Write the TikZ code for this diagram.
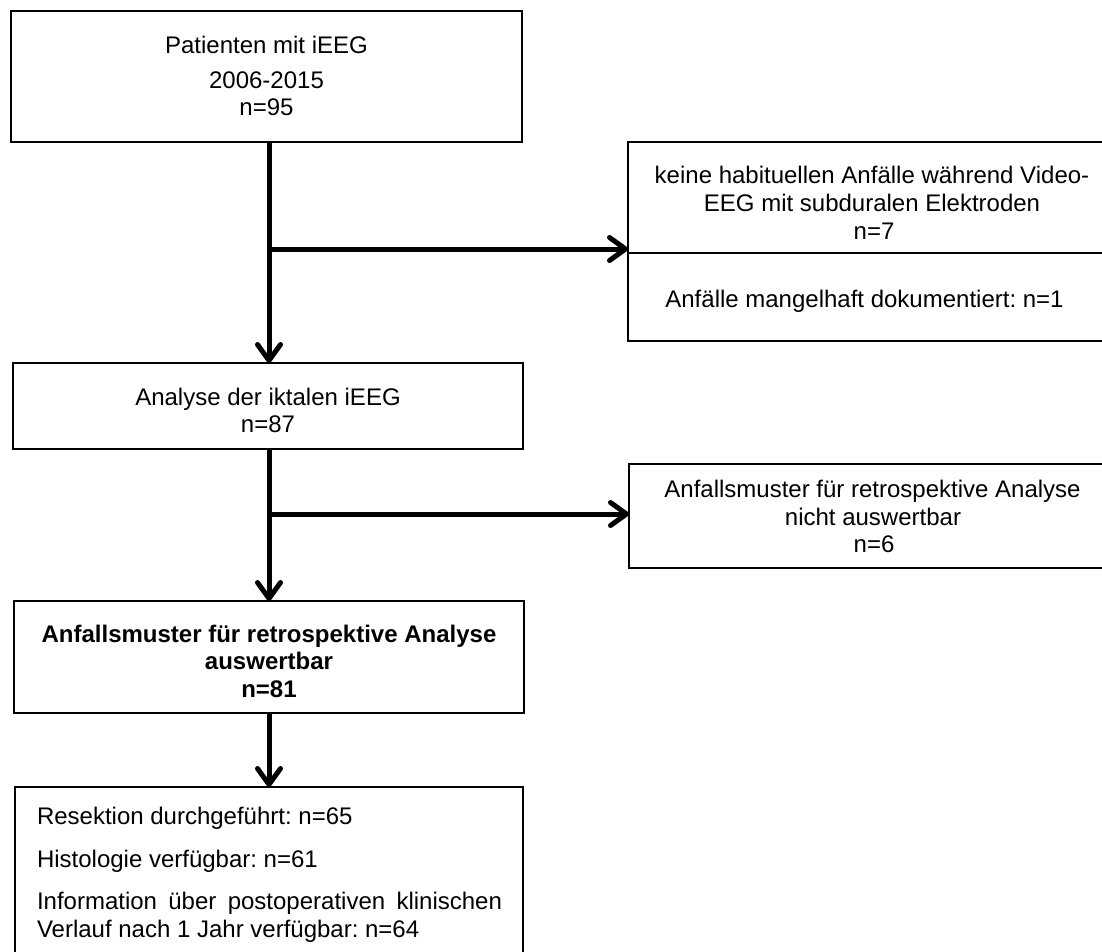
\documentclass[tikz,border=0pt]{standalone}
\usepackage{fontspec}
\setmainfont{Liberation Sans}
\usetikzlibrary{arrows.meta}
\frenchspacing
\begin{document}
\begin{tikzpicture}[x=1pt,y=-1pt,
  box/.style={draw=black,line width=2.3pt,rectangle,inner sep=0pt,outer sep=0pt},
  txt/.style={inner sep=0pt,outer sep=0pt,anchor=base,font=\fontsize{24}{27.5}\selectfont},
  ltxt/.style={txt,anchor=base west},
  btxt/.style={txt,font=\fontsize{24}{27.5}\selectfont\bfseries},
  arr/.style={line width=5pt,-{Straight Barb[length=16pt,width=23pt,line join=round,line cap=round]}}]
\useasboundingbox (0,0) rectangle (1102,951);
\clip (0,0) rectangle (1102,951);
% boxes
\node[box,minimum width=511pt,minimum height=131pt] (b1) at (266.5,76.5) {};
\node[box,minimum width=482pt,minimum height=111pt] (r1a) at (869,197.5) {};
\node[box,minimum width=482pt,minimum height=88pt] (r1b) at (869,297) {};
\node[box,minimum width=510pt,minimum height=86pt] (b2) at (268,406) {};
\node[box,minimum width=481pt,minimum height=104pt] (r2) at (869.5,516) {};
\node[box,minimum width=510pt,minimum height=112pt] (b3) at (269,657) {};
\node[box,minimum width=508pt,minimum height=193pt] (b4) at (269,883.5) {};
% texts
\node[txt] (t1a) at (266.5,53) {Patienten mit iEEG};
\node[txt] (t1b) at (266.5,88) {2006-2015};
\node[txt] (t1c) at (266.5,115) {n=95};
\node[txt] (r1t1) at (872,183) {keine habituellen Anfälle während Video-};
\node[txt] (r1t2) at (872,211) {EEG mit subduralen Elektroden};
\node[txt] (r1t3) at (874,239) {n=7};
\node[txt] (r1t4) at (864.5,307) {Anfälle mangelhaft dokumentiert: n=1};
\node[txt] (t2a) at (268,405) {Analyse der iktalen iEEG};
\node[txt] (t2b) at (268,432) {n=87};
\node[txt] (r2t1) at (872.5,497) {Anfallsmuster für retrospektive Analyse};
\node[txt] (r2t2) at (873,525) {nicht auswertbar};
\node[txt] (r2t3) at (874,552) {n=6};
\node[btxt] (t3a) at (269,642) {Anfallsmuster für retrospektive Analyse};
\node[btxt] (t3b) at (269,669) {auswertbar};
\node[btxt] (t3c) at (269,697) {n=81};
\node[ltxt] (t4a) at (37,824) {Resektion durchgeführt: n=65};
\node[ltxt] (t4b) at (37,867) {Histologie verfügbar: n=61};
\node[ltxt] (t4c) at (37,909) {\makebox[465pt][s]{Information über postoperativen klinischen}};
\node[ltxt] (t4d) at (37,937) {Verlauf nach 1 Jahr verfügbar: n=64};
% connectors
\coordinate (j1) at (269,249);
\coordinate (j2) at (269,514);
\draw[arr] (b1.south -| j1) -- (b2.north -| j1);
\draw[arr] (b2.south -| j2) -- (b3.north -| j2);
\draw[arr] (b3.south -| j2) -- (b4.north -| j2);
\draw[arr] ([xshift=3pt]j1) -- (j1 -| r1a.west);
\draw[arr] ([xshift=3pt]j2) -- (j2 -| r2.west);
\end{tikzpicture}
\end{document}
